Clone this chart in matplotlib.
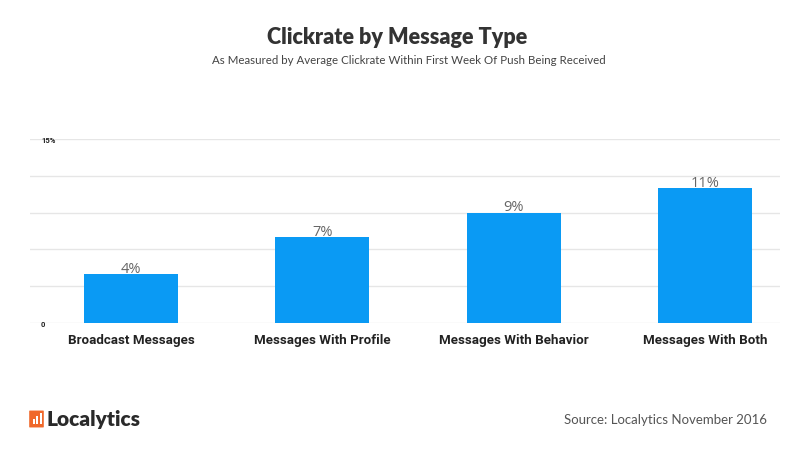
import matplotlib.pyplot as plt
from matplotlib.patches import FancyBboxPatch, Rectangle

categories = ['Broadcast Messages', 'Messages With Profile', 'Messages With Behavior', 'Messages With Both']
clickrate = [4, 7, 9, 11]
value_labels = ['4%', '7%', '9%', '11%']
y_ticks = [0, 3, 6, 9, 12, 15]
y_tick_labels = ['0', '', '', '', '', '15%']

W, H = 800, 452
fig = plt.figure(figsize=(W / 100, H / 100), dpi=100)
fig.patch.set_facecolor('white')

ax = fig.add_axes([30 / W, 1 - 324 / H, 750 / W, (324 - 140) / H])
x = range(len(categories))
bars = ax.bar(x, clickrate, width=0.49, color='#0a9af4', zorder=3)

ax.set_ylim(0, 15)
ax.set_xlim(-0.528, 3.392)
ax.set_yticks(y_ticks)
ax.set_yticklabels(y_tick_labels, fontsize=5.5, fontweight='bold', color='#222222', family='Roboto')
for lbl in ax.get_yticklabels():
    lbl.set_horizontalalignment('left')
ax.tick_params(axis='y', length=0, pad=-8)
ax.grid(axis='y', color='#e6e6e6', linewidth=1, zorder=0)
ax.set_xticks(list(x))
ax.set_xticklabels(categories, fontsize=9.6, fontweight='bold', color='#222222', family='Roboto')
ax.tick_params(axis='x', length=0, pad=7)
for s in ax.spines.values():
    s.set_visible(False)

for b, lab in zip(bars, value_labels):
    ax.text(b.get_x() + b.get_width() / 2, b.get_height() - 0.15, lab,
            ha='center', va='bottom', fontsize=10.5, color='#666666', family='Open Sans', zorder=4)

fig.text(0.497, 1 - 37 / H, 'Clickrate by Message Type', ha='center', va='center',
         fontsize=15.5, fontweight='heavy', color='#333333', family='Lato')
fig.text(0.511, 1 - 61 / H, 'As Measured by Average Clickrate Within First Week Of Push Being Received',
         ha='center', va='center', fontsize=8.3, color='#444444', family='Lato')

fig.text(767 / W, 1 - 420 / H, 'Source: Localytics November 2016', ha='right', va='center',
         fontsize=9.5, color='#555555', family='Lato')

# logo
fig.patches.append(FancyBboxPatch((30 / W, 1 - 428 / H), 13 / W, 16 / H,
                                  boxstyle='round,pad=0.001', transform=fig.transFigure,
                                  facecolor='#f0682a', edgecolor='none'))
for i, hgt in enumerate([5, 8, 11]):
    fig.patches.append(Rectangle(((32.5 + i * 3.5) / W, 1 - 425 / H), 2 / W, hgt / H,
                                 transform=fig.transFigure, facecolor='white', edgecolor='none'))
fig.text(46 / W, 1 - 420 / H, 'Localytics', ha='left', va='center',
         fontsize=15, fontweight='heavy', color='#2a2a2a', family='Lato')

plt.savefig('out.png', dpi=100)
